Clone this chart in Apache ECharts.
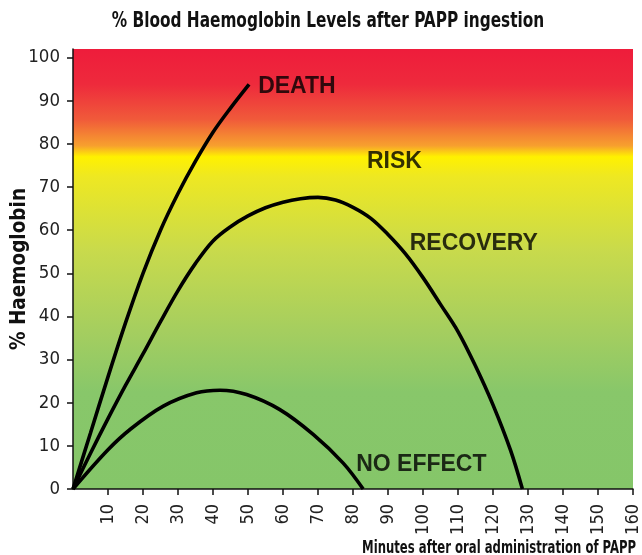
<!DOCTYPE html>
<html>
<head>
<meta charset="utf-8">
<script src="https://cdn.jsdelivr.net/npm/echarts@6/dist/echarts.min.js"></script>
<style>
html,body{margin:0;padding:0;background:#fff;}
#chart{width:642px;height:555px;}
</style>
</head>
<body>
<div id="chart"></div>
<script>
// ---- data ----
const titleText = '% Blood Haemoglobin Levels after PAPP ingestion';
const xAxisTitle = 'Minutes after oral administration of PAPP';
const yAxisTitle = '% Haemoglobin';
const xTickValues = [10,20,30,40,50,60,70,80,90,100,110,120,130,140,150,160];
const yTickValues = [0,10,20,30,40,50,60,70,80,90,100];

const deathX = [0, 5, 10, 15, 20, 25, 30, 35, 40, 45, 50.3];
const deathY = [0, 13, 26, 38.5, 50, 60, 68.5, 76, 82.7, 88.3, 93.8];

const recoveryX = [0, 5, 10, 15, 20, 25, 30, 35, 40, 45, 50, 55, 60, 65, 70, 75, 80, 85, 90, 95, 100, 105, 110, 115, 120, 125, 128.4];
const recoveryY = [0, 8.3, 16.3, 24, 31.3, 38.8, 46, 52.3, 57.5, 60.8, 63.3, 65.2, 66.5, 67.3, 67.6, 67, 65.3, 62.8, 59, 54.5, 49, 42.8, 36.5, 28.5, 19.5, 9, 0];

const noEffectX = [0, 10, 16.3, 25.8, 35.3, 42, 49.6, 59.1, 68.7, 77.2, 82.9];
const noEffectY = [0, 9.1, 13.8, 19.2, 22.3, 22.9, 21.9, 18.4, 12.6, 6.0, 0];

const annotationText = ['DEATH', 'RISK', 'RECOVERY', 'NO EFFECT'];
const annotationX = [52.9, 84, 96.2, 80.9];
const annotationY = [93.2, 75.8, 56.8, 5.6];

// ---- chart ----
const narrow = "'Liberation Sans Narrow', 'DejaVu Sans Condensed', sans-serif";
const pair = (xs, ys) => xs.map((x, i) => [x, ys[i]]);
const lineSeries = (name, xs, ys) => ({
  name, type: 'line', data: pair(xs, ys), smooth: 0.35, symbol: 'none',
  lineStyle: { color: '#000', width: 3.6 }, silent: true, z: 3
});

const chart = echarts.init(document.getElementById('chart'), null, { renderer: 'canvas' });
chart.setOption({
  animation: false,
  backgroundColor: '#fff',
  graphic: [
    {
      type: 'text', x: 328, y: 21, scaleX: 0.775, silent: true,
      style: { text: titleText, textAlign: 'center', textVerticalAlign: 'middle',
        font: "bold 22px 'DejaVu Sans Condensed', sans-serif", fill: '#111' }
    },
    {
      type: 'text', x: 636, y: 548, scaleX: 0.72, silent: true,
      style: { text: xAxisTitle, textAlign: 'right', textVerticalAlign: 'middle',
        font: "bold 18px 'DejaVu Sans Condensed', sans-serif", fill: '#111' }
    }
  ],
  grid: {
    left: 73, right: 9, top: 49, bottom: 66, show: true, borderWidth: 0,
    containLabel: false, outerBoundsMode: 'none',
    backgroundColor: {
      type: 'linear', x: 0, y: 0, x2: 0, y2: 1,
      colorStops: [
        { offset: 0, color: '#EE1C3B' },
        { offset: 0.08, color: '#EE2A3C' },
        { offset: 0.16, color: '#F05A3A' },
        { offset: 0.22, color: '#F7A02E' },
        { offset: 0.245, color: '#FFF100' },
        { offset: 0.29, color: '#EEE822' },
        { offset: 0.46, color: '#C8DA4C' },
        { offset: 0.64, color: '#A5CE5F' },
        { offset: 0.78, color: '#88C76A' },
        { offset: 1, color: '#85C669' }
      ]
    }
  },
  xAxis: {
    type: 'value', min: 0, max: 160, interval: 10,
    axisLine: { show: true, onZero: false, lineStyle: { color: '#111', width: 1.5 } },
    axisTick: { show: true, length: 6, lineStyle: { color: '#111', width: 1.5 }, customValues: xTickValues },
    axisLabel: { rotate: 90, margin: 15, fontFamily: narrow, fontSize: 18, color: '#222', customValues: xTickValues },
    splitLine: { show: false }
  },
  yAxis: {
    type: 'value', min: 0, max: 102, interval: 10,
    name: yAxisTitle, nameLocation: 'middle', nameGap: 43, nameRotate: 90, nameMoveOverlap: false,
    nameTextStyle: { fontFamily: narrow, fontWeight: 'bold', fontSize: 20.5, color: '#111' },
    axisLine: { show: true, lineStyle: { color: '#111', width: 1.5 } },
    axisTick: { show: true, length: 6, lineStyle: { color: '#111', width: 1.5 }, customValues: yTickValues },
    axisLabel: { margin: 13, fontFamily: narrow, fontSize: 18.5, color: '#222', customValues: yTickValues },
    splitLine: { show: false }
  },
  series: [
    lineSeries('DEATH', deathX, deathY),
    lineSeries('RECOVERY', recoveryX, recoveryY),
    lineSeries('NO EFFECT', noEffectX, noEffectY),
    {
      type: 'scatter', symbolSize: 0, silent: true, z: 4,
      data: annotationText.map((t, i) => ({ value: [annotationX[i], annotationY[i]], name: t })),
      label: {
        show: true, position: 'right', distance: 0, formatter: p => p.name,
        fontFamily: "'Liberation Sans', Arial, sans-serif", fontWeight: 'bold', fontSize: 23, color: '#000'
      }
    }
  ]
});
</script>
</body>
</html>
